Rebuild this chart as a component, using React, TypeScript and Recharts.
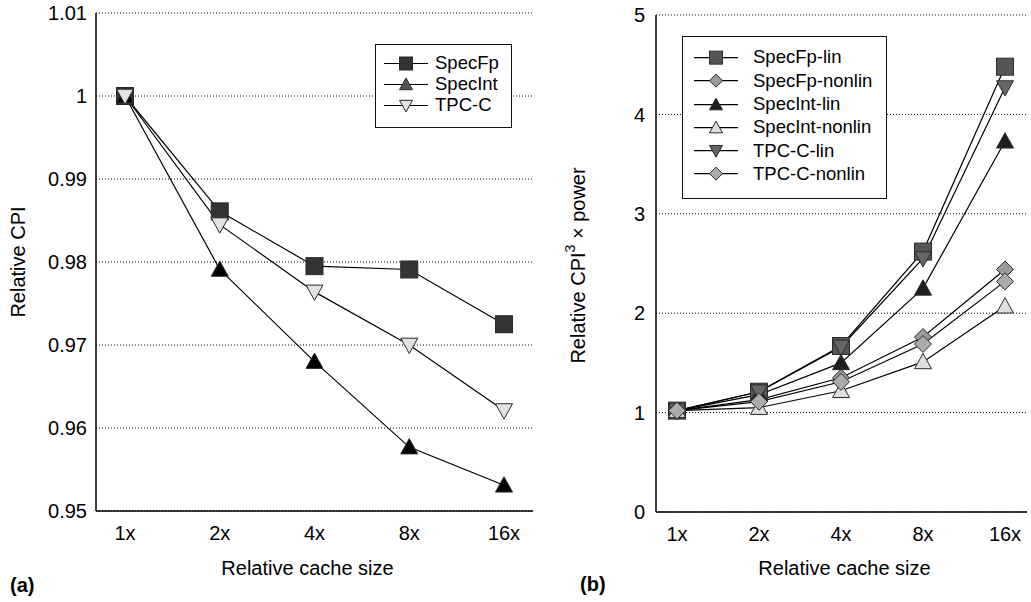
import { CartesianGrid, Legend, Line, LineChart, XAxis, YAxis } from "recharts";

const sizes = ["1x", "2x", "4x", "8x", "16x"];

// (a) relative CPI
const specFpCpi = [1, 0.9861, 0.9795, 0.9791, 0.9725];
const specIntCpi = [1, 0.9791, 0.968, 0.9577, 0.9531];
const tpcCCpi = [1, 0.9845, 0.9764, 0.97, 0.9621];
const cpiTicks = [0.95, 0.96, 0.97, 0.98, 0.99, 1, 1.01];

// (b) relative CPI^3 x power
const specFpLin = [1.02, 1.21, 1.67, 2.62, 4.48];
const specFpNonlin = [1.02, 1.13, 1.35, 1.76, 2.44];
const specIntLin = [1.02, 1.18, 1.5, 2.25, 3.73];
const specIntNonlin = [1.02, 1.05, 1.22, 1.51, 2.07];
const tpcCLin = [1.02, 1.21, 1.66, 2.55, 4.27];
const tpcCNonlin = [1.02, 1.11, 1.31, 1.69, 2.32];
const powerTicks = [0, 1, 2, 3, 4, 5];

const FONT = "'Liberation Sans', Arial, sans-serif";
const TEXT_SIZE = 20;

type Shape = "square" | "triangle" | "down" | "diamond";

interface Serie {
  key: string;
  name: string;
  values: number[];
  shape: Shape;
  fill: string;
  legendFill?: string;
}

const cpiSeries: Serie[] = [
  { key: "specFp", name: "SpecFp", values: specFpCpi, shape: "square", fill: "#333333" },
  { key: "specInt", name: "SpecInt", values: specIntCpi, shape: "triangle", fill: "#000000", legendFill: "#555555" },
  { key: "tpcC", name: "TPC-C", values: tpcCCpi, shape: "down", fill: "#e2e2e2" },
];

const powerSeries: Serie[] = [
  { key: "specFpLin", name: "SpecFp-lin", values: specFpLin, shape: "square", fill: "#555555" },
  { key: "specFpNonlin", name: "SpecFp-nonlin", values: specFpNonlin, shape: "diamond", fill: "#9a9a9a" },
  { key: "specIntLin", name: "SpecInt-lin", values: specIntLin, shape: "triangle", fill: "#1e1e1e" },
  { key: "specIntNonlin", name: "SpecInt-nonlin", values: specIntNonlin, shape: "triangle", fill: "#dedede" },
  { key: "tpcCLin", name: "TPC-C-lin", values: tpcCLin, shape: "down", fill: "#666666" },
  { key: "tpcCNonlin", name: "TPC-C-nonlin", values: tpcCNonlin, shape: "diamond", fill: "#ababab" },
];

const toRows = (series: Serie[]) =>
  sizes.map((size, i) => {
    const row: Record<string, string | number> = { size };
    series.forEach((s) => {
      row[s.key] = s.values[i];
    });
    return row;
  });

const cpiData = toRows(cpiSeries);
const powerData = toRows(powerSeries);

function Marker({ cx, cy, shape, fill, size }: { cx: number; cy: number; shape: Shape; fill: string; size: number }) {
  const h = size / 2;
  const common = { fill, stroke: "#2a2a2a", strokeWidth: 1 };
  if (shape === "square") {
    return <rect x={cx - h} y={cy - h} width={size} height={size} {...common} />;
  }
  if (shape === "triangle") {
    return <polygon points={`${cx},${cy - h} ${cx + h},${cy + h * 0.8} ${cx - h},${cy + h * 0.8}`} {...common} />;
  }
  if (shape === "down") {
    return <polygon points={`${cx},${cy + h} ${cx + h},${cy - h * 0.8} ${cx - h},${cy - h * 0.8}`} {...common} />;
  }
  return <polygon points={`${cx},${cy - h} ${cx + h},${cy} ${cx},${cy + h} ${cx - h},${cy}`} {...common} />;
}

function LegendBox({ series, rowHeight, gap, padTop, padLeft }: { series: Serie[]; rowHeight: number; gap: number; padTop: number; padLeft: number }) {
  return (
    <div
      style={{
        border: "1.5px solid #111",
        background: "#fff",
        padding: `${padTop}px 8px ${padTop + 3}px ${padLeft}px`,
        fontFamily: FONT,
        fontSize: 18.5,
        color: "#000",
      }}
    >
      {series.map((s) => (
        <div key={s.key} style={{ display: "flex", alignItems: "center", height: rowHeight }}>
          <svg width={44} height={rowHeight} style={{ flex: "none" }}>
            <line x1={0} x2={44} y1={rowHeight / 2} y2={rowHeight / 2} stroke="#000" strokeWidth={1.2} />
            <Marker cx={22} cy={rowHeight / 2} shape={s.shape} fill={s.legendFill ?? s.fill} size={13} />
          </svg>
          <span style={{ marginLeft: gap, lineHeight: 1, whiteSpace: "nowrap" }}>{s.name}</span>
        </div>
      ))}
    </div>
  );
}

const tickStyle = { fill: "#000", fontSize: TEXT_SIZE, fontFamily: FONT };
const dotted = { stroke: "#000", strokeDasharray: "1 2" };

function CpiChart() {
  return (
    <LineChart width={540} height={602} data={cpiData} margin={{ top: 13, right: 7, bottom: 0, left: 36 }}>
      <CartesianGrid vertical={false} stroke="#000" strokeDasharray="1 2" />
      <XAxis
        dataKey="size"
        scale="point"
        padding={{ left: 29, right: 29 }}
        height={91}
        tickLine={false}
        tickSize={0}
        tickMargin={15}
        axisLine={{ stroke: "#000", strokeWidth: 1.5 }}
        tick={tickStyle}
        label={{
          content: ({ viewBox }: any) => (
            <text x={viewBox.x + viewBox.width / 2 - 7} y={viewBox.y + 64} textAnchor="middle" fontSize={TEXT_SIZE} fontFamily={FONT} fill="#000">
              Relative cache size
            </text>
          ),
        }}
      />
      <YAxis
        domain={[0.95, 1.01]}
        ticks={cpiTicks}
        width={60}
        tickLine={false}
        tickSize={0}
        tickMargin={9}
        axisLine={{ stroke: "#000", strokeWidth: 1.5 }}
        tick={tickStyle}
        tickFormatter={(v: number) => String(v)}
        label={{
          content: ({ viewBox }: any) => (
            <text
              transform={`translate(${viewBox.x - 18}, ${viewBox.y + viewBox.height / 2}) rotate(-90)`}
              textAnchor="middle"
              dominantBaseline="central"
              fontSize={TEXT_SIZE}
              fontFamily={FONT}
              fill="#000"
            >
              Relative CPI
            </text>
          ),
        }}
      />
      <YAxis yAxisId="frame" orientation="right" width={0} domain={[0.95, 1.01]} tick={false} tickLine={false} axisLine={dotted} />
      <Legend
        layout="vertical"
        align="center"
        verticalAlign="middle"
        wrapperStyle={{ left: 375, top: 44, width: 137 }}
        content={() => <LegendBox series={cpiSeries} rowHeight={21} gap={7} padTop={8} padLeft={8} />}
      />
      {cpiSeries.map((s) => (
        <Line
          key={s.key}
          type="linear"
          dataKey={s.key}
          name={s.name}
          stroke="#000"
          strokeWidth={1.2}
          isAnimationActive={false}
          dot={(p: any) => <Marker key={`${s.key}-${p.index}`} cx={p.cx} cy={p.cy} shape={s.shape} fill={s.fill} size={17} />}
          activeDot={false}
        />
      ))}
    </LineChart>
  );
}

function PowerChart() {
  return (
    <LineChart width={491} height={602} data={powerData} margin={{ top: 15, right: 4, bottom: 0, left: 56 }}>
      <CartesianGrid vertical={false} stroke="#000" strokeDasharray="1 2" />
      <XAxis
        dataKey="size"
        scale="point"
        padding={{ left: 21, right: 22 }}
        height={90}
        tickLine={false}
        tickSize={0}
        tickMargin={15}
        axisLine={{ stroke: "#000", strokeWidth: 1.5 }}
        tick={tickStyle}
        label={{
          content: ({ viewBox }: any) => (
            <text x={viewBox.x + viewBox.width / 2 + 3} y={viewBox.y + 63} textAnchor="middle" fontSize={TEXT_SIZE} fontFamily={FONT} fill="#000">
              Relative cache size
            </text>
          ),
        }}
      />
      <YAxis
        domain={[0, 5]}
        ticks={powerTicks}
        width={60}
        tickLine={false}
        tickSize={0}
        tickMargin={11}
        axisLine={{ stroke: "#000", strokeWidth: 1.5 }}
        tick={tickStyle}
        label={{
          content: ({ viewBox }: any) => (
            <text
              transform={`translate(${viewBox.x - 18}, ${viewBox.y + viewBox.height / 2 + 2}) rotate(-90)`}
              textAnchor="middle"
              dominantBaseline="central"
              fontSize={TEXT_SIZE}
              fontFamily={FONT}
              fill="#000"
            >
              Relative CPI
              <tspan dy={-8} fontSize={14}>3</tspan>
              <tspan dy={8}> × power</tspan>
            </text>
          ),
        }}
      />
      <YAxis yAxisId="frame" orientation="right" width={0} domain={[0, 5]} tick={false} tickLine={false} axisLine={dotted} />
      <Legend
        layout="vertical"
        align="center"
        verticalAlign="middle"
        wrapperStyle={{ left: 142, top: 36, width: 205 }}
        content={() => <LegendBox series={powerSeries} rowHeight={23.3} gap={15} padTop={9} padLeft={11} />}
      />
      {powerSeries.map((s) => (
        <Line
          key={s.key}
          type="linear"
          dataKey={s.key}
          name={s.name}
          stroke="#000"
          strokeWidth={1.2}
          isAnimationActive={false}
          dot={(p: any) => <Marker key={`${s.key}-${p.index}`} cx={p.cx} cy={p.cy} shape={s.shape} fill={s.fill} size={17} />}
          activeDot={false}
        />
      ))}
    </LineChart>
  );
}

export default function App() {
  return (
    <div style={{ position: "absolute", left: 0, top: 0, width: 1031, height: 602, background: "#fff", fontFamily: FONT }}>
      <div style={{ position: "absolute", left: 0, top: 0 }}>
        <CpiChart />
      </div>
      <div style={{ position: "absolute", left: 540, top: 0 }}>
        <PowerChart />
      </div>
      <svg width={1031} height={602} style={{ position: "absolute", left: 0, top: 0, pointerEvents: "none" }}>
        <text x={10} y={592} fontSize={TEXT_SIZE} fontWeight="bold" fontFamily={FONT} fill="#000">
          (a)
        </text>
        <text x={580} y={591} fontSize={TEXT_SIZE} fontWeight="bold" fontFamily={FONT} fill="#000">
          (b)
        </text>
      </svg>
    </div>
  );
}
